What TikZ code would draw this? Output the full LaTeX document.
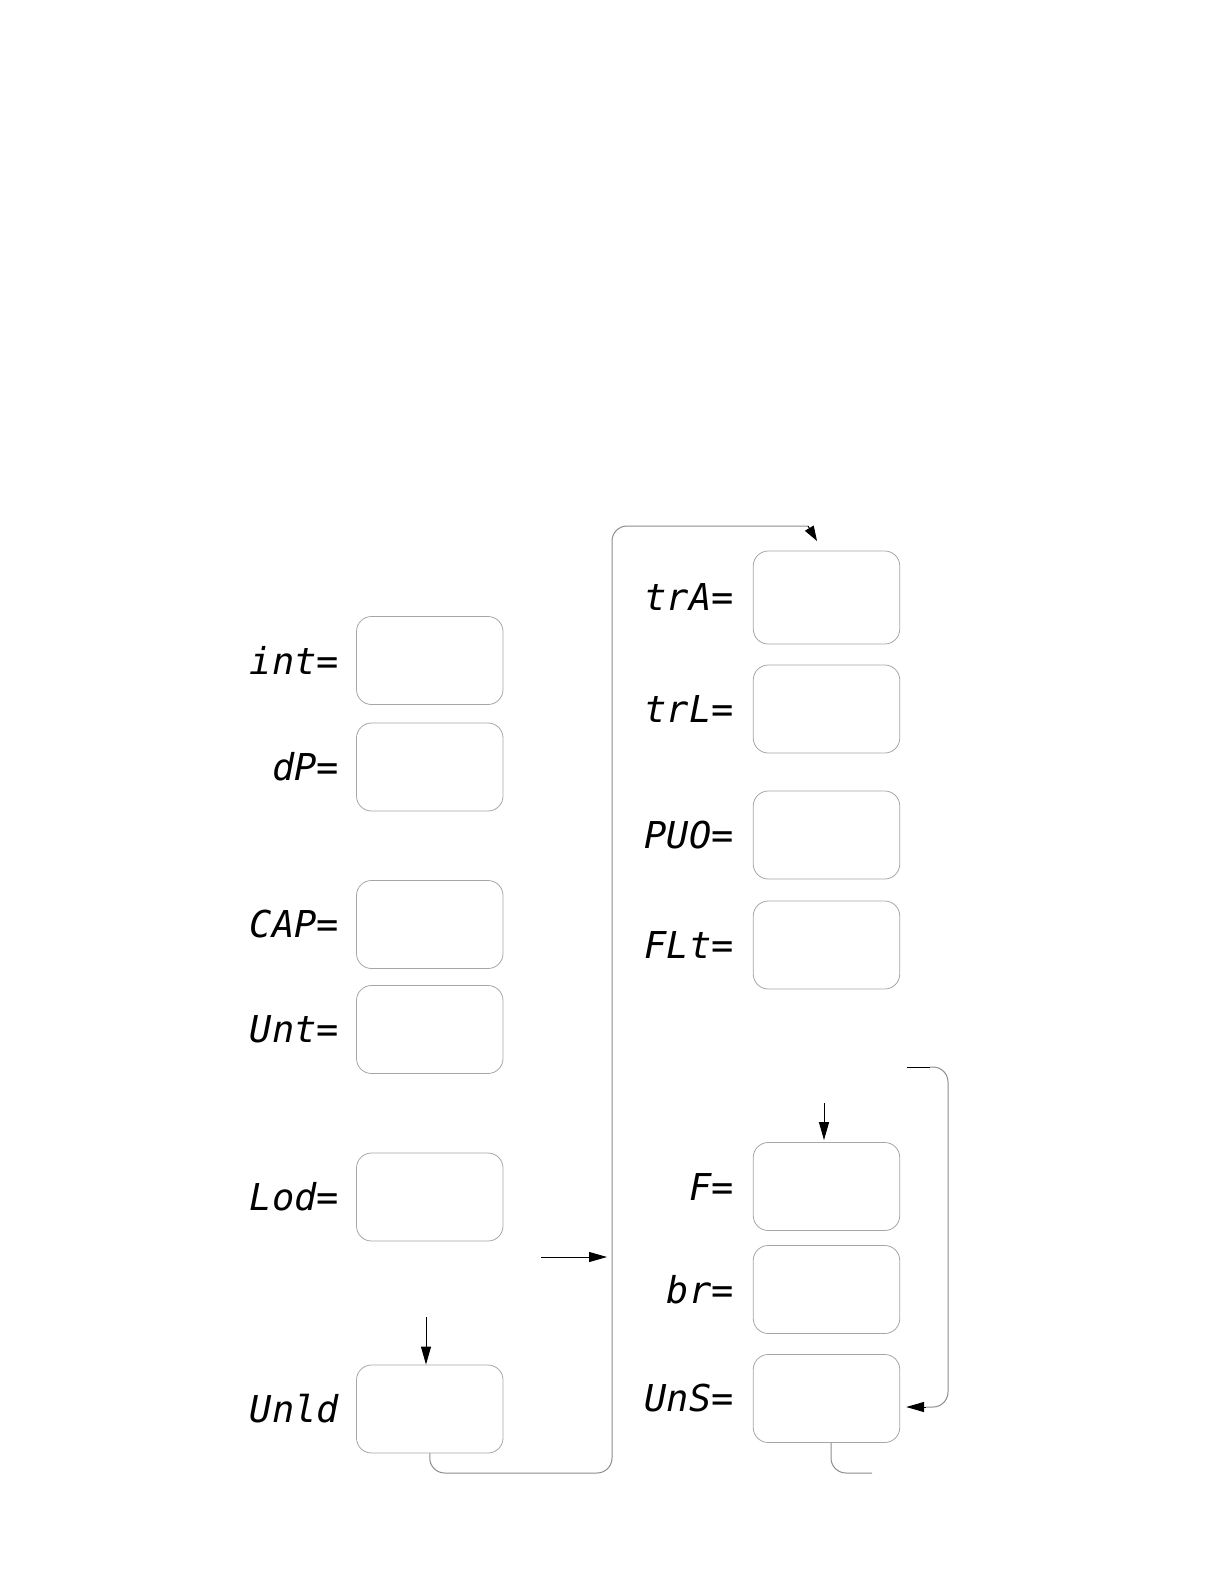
\documentclass[tikz,border=0pt]{standalone}
\usepackage{fontspec}
\newfontfamily\segfont{DejaVu Sans Mono}
\usetikzlibrary{arrows.meta,positioning,calc}

\begin{document}
\begin{tikzpicture}[
    x=1pt, y=-1pt,
    valbox/.style={draw=black!35, line width=0.8pt, rounded corners=15pt, minimum width=146.5pt, minimum height=88pt, inner sep=0pt},
    seg/.style={font=\segfont\itshape\fontsize{37}{37}\selectfont, inner sep=0pt, anchor=east},
    arr/.style={-{Triangle[length=18pt, width=10pt]}, line width=1pt, black},
    loopline/.style={draw=black!45, line width=1pt, rounded corners=15pt},
  ]
  \useasboundingbox (0,0) rectangle (1224,1584);
  % left column
  \node[valbox] (int) at (429.75,660.5) {};
  \node[valbox] (dP) at (429.75,767) {};
  \node[valbox] (CAP) at (429.75,924.5) {};
  \node[valbox] (Unt) at (429.75,1029.5) {};
  \node[valbox] (Lod) at (429.75,1197) {};
  \node[valbox] (Unld) at (429.75,1409) {};
  \node[seg, left=17pt of int] (intl) {int=};
  \node[seg, left=17pt of dP] (dPl) {dP=};
  \node[seg, left=17pt of CAP] (CAPl) {CAP=};
  \node[seg, left=17pt of Unt] (Untl) {Unt=};
  \node[seg, left=17pt of Lod] (Lodl) {Lod=};
  \node[seg, left=17pt of Unld] (Unldl) {Unld};
  % right column
  \node[valbox, minimum height=93pt] (trA) at (826.5,597.5) {};
  \node[valbox] (trL) at (826.5,709) {};
  \node[valbox] (PUO) at (826.5,835) {};
  \node[valbox] (FLt) at (826.5,945) {};
  \node[valbox] (F) at (826.5,1186.5) {};
  \node[valbox] (br) at (826.5,1289.5) {};
  \node[valbox] (UnS) at (826.5,1398.5) {};
  \node[seg, left=19pt of trA] (trAl) {trA=};
  \node[seg, left=19pt of trL] (trLl) {trL=};
  \node[seg, left=19pt of PUO] (PUOl) {PUO=};
  \node[seg, left=19pt of FLt] (FLtl) {FLt=};
  \node[seg, left=19pt of F] (Fl) {F=};
  \node[seg, left=19pt of br] (brl) {br=};
  \node[seg, left=19pt of UnS] (UnSl) {UnS=};
  % connectors
  \coordinate (unldin) at (426,1317);
  \draw[arr] (unldin) -- (unldin |- Unld.north);
  \coordinate (topend) at (808,526);
  \draw[loopline] (Unld.south) |- (612,1473) |- (topend);
  \coordinate (toptip) at (817,541);
  \draw[arr, -{Triangle[length=15pt, width=10pt]}] (topend) -- (toptip);
  \coordinate (midfrom) at (541,1257);
  \coordinate (midto) at (607,1257);
  \draw[arr] (midfrom) -- (midto);
  \coordinate (fin) at (824,1103);
  \draw[arr] (fin) -- ($(fin |- F.north)+(0,-2)$);
  \coordinate (rstub) at (907,1067);
  \coordinate (rbend) at (930,1067);
  \coordinate (rback) at (926,1407);
  \draw[line width=1pt] (rstub) -- (rbend);
  \draw[loopline] (rbend) -| (948,1407) -- (rback);
  \draw[arr] (rback) -- ($(UnS.east |- rback)+(6,0)$);
  \coordinate (unsend) at (872,1473);
  \draw[loopline] ([xshift=4.5pt]UnS.south) |- (unsend);
\end{tikzpicture}
\end{document}
